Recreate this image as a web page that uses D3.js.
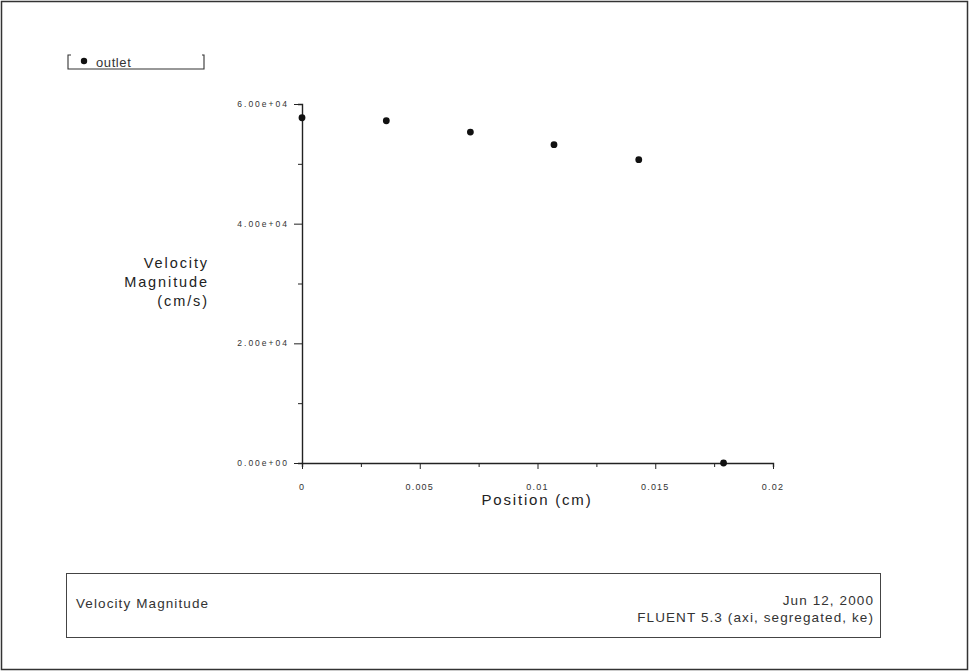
<!DOCTYPE html>
<html><head><meta charset="utf-8">
<script src="https://cdn.jsdelivr.net/npm/d3@7"></script>
<style>body{margin:0;background:#fff}svg{display:block;font-family:"Liberation Sans",Arial,sans-serif}</style>
</head><body><svg id="c" width="970" height="671"></svg>
<script>
const positions = [0, 0.00358, 0.00715, 0.0107, 0.0143, 0.0179];
const velocities = [57700, 57200, 55300, 53200, 50700, 0];
const xTicks = [0, 0.005, 0.01, 0.015, 0.02];
const xTickLabels = ["0", "0.005", "0.01", "0.015", "0.02"];
const yTicks = [0, 20000, 40000, 60000];
const yTickLabels = ["0.00e+00", "2.00e+04", "4.00e+04", "6.00e+04"];
const seriesName = "outlet";
const footerLeft = "Velocity Magnitude";
const footerRight = ["Jun 12, 2000", "FLUENT 5.3 (axi, segregated, ke)"];

const svg = d3.select("#c");
svg.append("rect").attr("x",1.5).attr("y",1.5).attr("width",966).attr("height",668)
  .attr("fill","none").attr("stroke","#333").attr("stroke-width",1.5);

const x = d3.scaleLinear().domain([0,0.02]).range([302,773]);
const y = d3.scaleLinear().domain([0,60000]).range([463,104]);

// X axis
const gx = svg.append("g").attr("transform","translate(0,463)");
gx.call(d3.axisBottom(x).tickValues(d3.range(0,0.02001,0.0025)).tickFormat("").tickSizeOuter(0).tickSize(4));
gx.select(".domain").attr("stroke","#222").attr("stroke-width",1.4);
gx.selectAll(".tick line").attr("stroke","#222");
gx.selectAll(".tick").filter((d,i)=>i%2===0).select("line").attr("y2",6);
xTicks.forEach((v,i)=>{
  svg.append("text").attr("x",x(v)).attr("y",490).attr("text-anchor","middle")
    .attr("font-size",9).attr("letter-spacing",1.2).attr("fill","#333").text(xTickLabels[i]);
});

// Y axis
const gy = svg.append("g").attr("transform","translate(302,0)");
gy.call(d3.axisLeft(y).tickValues(d3.range(0,60001,10000)).tickFormat("").tickSizeOuter(0).tickSize(4));
gy.select(".domain").attr("stroke","#222").attr("stroke-width",1.4);
gy.selectAll(".tick line").attr("stroke","#222");
gy.selectAll(".tick").filter((d,i)=>i%2===0).select("line").attr("x2",-8);
yTicks.forEach((v,i)=>{
  svg.append("text").attr("x",289).attr("y",y(v)+3).attr("text-anchor","end")
    .attr("font-size",8.5).attr("letter-spacing",2).attr("fill","#333").text(yTickLabels[i]);
});

// Points
svg.selectAll("circle.pt").data(positions).enter().append("circle").attr("class","pt")
  .attr("cx",(d)=>x(d)).attr("cy",(d,i)=>y(velocities[i])).attr("r",3.4).attr("fill","#111");

// Axis titles
const yl = ["Velocity","Magnitude","(cm/s)"];
yl.forEach((t,i)=>{
  svg.append("text").attr("x",209).attr("y",268+i*19).attr("text-anchor","end")
    .attr("font-size",14.5).attr("letter-spacing",1.9).attr("fill","#222").text(t);
});
svg.append("text").attr("x",537).attr("y",505).attr("text-anchor","middle")
  .attr("font-size",15).attr("letter-spacing",1.8).attr("fill","#222").text("Position (cm)");

// Legend
svg.append("path").attr("d","M71,55 L68,55 L68,69 L204,69 L204,55 L202,55")
  .attr("fill","none").attr("stroke","#333").attr("stroke-width",1.1);
svg.append("circle").attr("cx",84).attr("cy",61).attr("r",3.2).attr("fill","#111");
svg.append("text").attr("x",96).attr("y",67).attr("font-size",13).attr("letter-spacing",0.6).attr("fill","#333").text(seriesName);

// Footer box
svg.append("rect").attr("x",66.5).attr("y",573.5).attr("width",814).attr("height",64)
  .attr("fill","none").attr("stroke","#444").attr("stroke-width",1);
svg.append("text").attr("x",76).attr("y",608).attr("font-size",13.5).attr("letter-spacing",1.1).attr("fill","#333").text(footerLeft);
footerRight.forEach((t,i)=>{
  svg.append("text").attr("x",874).attr("y",605+i*17).attr("text-anchor","end")
    .attr("font-size",13.5).attr("letter-spacing",1.1).attr("fill","#333").text(t);
});
</script></body></html>
